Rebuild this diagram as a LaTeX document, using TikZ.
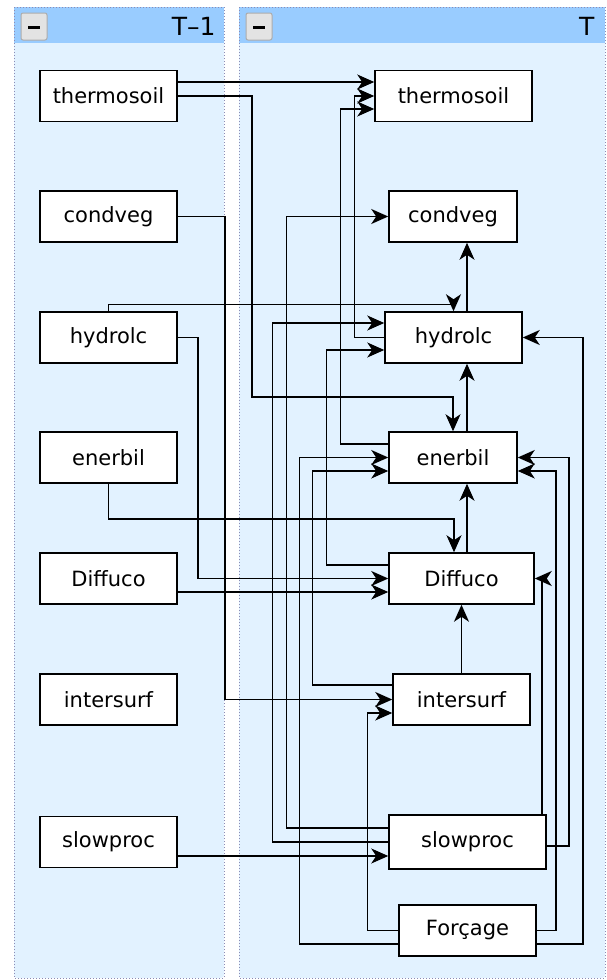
\documentclass[tikz,border=0pt]{standalone}
\usepackage{fontspec}
\setmainfont{DejaVu Sans}
\usetikzlibrary{arrows.meta}
\usetikzlibrary{calc}
\definecolor{headblue}{HTML}{99CCFF}
\definecolor{bodyblue}{HTML}{E2F2FF}
\definecolor{edgegray}{HTML}{8C8CB4}

\begin{document}
\begin{tikzpicture}[x=1pt,y=-1pt,
  box/.style={draw,fill=white,line width=1.5pt,minimum height=51pt,inner sep=0pt,font=\fontsize{21}{25}\selectfont},
  flow/.style={line width=1.5pt,-{Stealth[length=17pt,width=15pt,inset=5pt]}},
  panedge/.style={draw=edgegray,line width=1pt,dash pattern=on 1pt off 2pt},
  minusbtn/.style={fill=gray!22,draw=gray!65,line width=1pt,rounded corners=2pt},
  steptitle/.style={anchor=base east,font=\fontsize{25}{29}\selectfont}]
\useasboundingbox (0,0) rectangle (606,980);
% les deux pas de temps
\fill[bodyblue,rounded corners=3pt] (14,7) rectangle (224,978);
\fill[headblue] (14,7) rectangle (224,43);
\draw[panedge] (14,7) rectangle (224,978);
\fill[bodyblue,rounded corners=3pt] (239,7) rectangle (605,978);
\fill[headblue] (239,7) rectangle (605,43);
\draw[panedge] (239,7) rectangle (605,978);
\draw[minusbtn] (21,13) rectangle (47,40);
\draw[line width=3pt] (28,27) -- (40,27);
\draw[minusbtn] (246,13) rectangle (272,40);
\draw[line width=3pt] (253,27) -- (265,27);
\node[steptitle] (tprev) at (219,35) {T–1};
\node[steptitle] (tcur) at (598,35) {T};

% T-1
\node[box,minimum width=137pt] (thL) at (108.5,96) {thermosoil};
\node[box,minimum width=137pt] (cvL) at (108.5,216.5) {condveg};
\node[box,minimum width=137pt] (hyL) at (108.5,337.5) {hydrolc};
\node[box,minimum width=137pt] (enL) at (108.5,457.5) {enerbil};
\node[box,minimum width=137pt] (dfL) at (108.5,578.5) {Diffuco};
\node[box,minimum width=137pt] (isL) at (108.5,699.5) {intersurf};
\node[box,minimum width=137pt] (spL) at (108.5,842) {slowproc};

% T
\node[box,minimum width=157pt] (thR) at (453.5,96) {thermosoil};
\node[box,minimum width=128pt] (cvR) at (453,216.5) {condveg};
\node[box,minimum width=137pt] (hyR) at (453.5,337.5) {hydrolc};
\node[box,minimum width=128pt] (enR) at (453,457.5) {enerbil};
\node[box,minimum width=145pt] (dfR) at (461.5,578.5) {Diffuco};
\node[box,minimum width=137pt] (isR) at (461.5,699.5) {intersurf};
\node[box,minimum width=157pt,minimum height=54pt] (spR) at (467.5,842) {slowproc};
\node[box,minimum width=137pt] (fcR) at (467.5,930.5) {Forçage};

% T-1 -> T
\draw[flow] ([yshift=14]thL.east) -- ([yshift=14]thR.west);
\draw[flow] (thL.east) -- ++(74,0) -- ++(0,301) -| (enR.north);
\draw[flow] (cvL.east) -- ++(47,0) |- (isR.west);
\draw[flow] (hyL.north) -- ++(0,-7) -| (hyR.north);
\draw[flow] (hyL.east) -- ++(20,0) |- (dfR.west);
\draw[flow] ([yshift=-13.5]dfL.east) -- ([yshift=-13.5]dfR.west);
\draw[flow] (enL.south) -- ++(0,35) -| ([xshift=-7.5]dfR.north);
\draw[flow] ([yshift=-14]spL.east) -- ([yshift=-14]spR.west);

% T -> T
\draw[flow] (hyR.west) -- ++(-30,0) |- (thR.west);
\draw[flow] ([yshift=13.5]enR.west) -- ++(-48,0) |- ([yshift=-13]thR.west);
\draw[flow] ([yshift=14]spR.west) -- ++(-102,0) |- (cvR.west);
\draw[flow] (spR.west) -- ++(-116,0) |- ([yshift=14.5]hyR.west);
\draw[flow] ([yshift=13.5]dfR.west) -- ++(-62,0) |- ([yshift=-12.5]hyR.west);
\draw[flow] ([yshift=-13.5]fcR.west) -- ++(-99,0) |- (enR.west);
\draw[flow] ([yshift=14.5]isR.west) -- ++(-80,0) |- ([yshift=-13.5]enR.west);
\draw[flow] (fcR.west) -- ++(-31,0) |- ([yshift=-13.5]isR.west);
\draw[flow] ([xshift=13.5]hyR.north) -- ([xshift=14]cvR.south);
\draw[flow] ([xshift=14]enR.north) -- ([xshift=13.5]hyR.south);
\draw[flow] ([xshift=5.5]dfR.north) -- ([xshift=14]enR.south);
\draw[flow] (isR.north) -- (dfR.south);
\draw[flow] ([xshift=-5]spR.north east) |- (dfR.east);
\draw[flow] ([yshift=-4]spR.east) -- ++(22,0) |- (enR.east);
\draw[flow] (fcR.east) -- ++(19,0) |- ([yshift=-13.5]enR.east);
\draw[flow] ([yshift=-13.5]fcR.east) -- ++(46,0) |- (hyR.east);
\end{tikzpicture}
\end{document}
